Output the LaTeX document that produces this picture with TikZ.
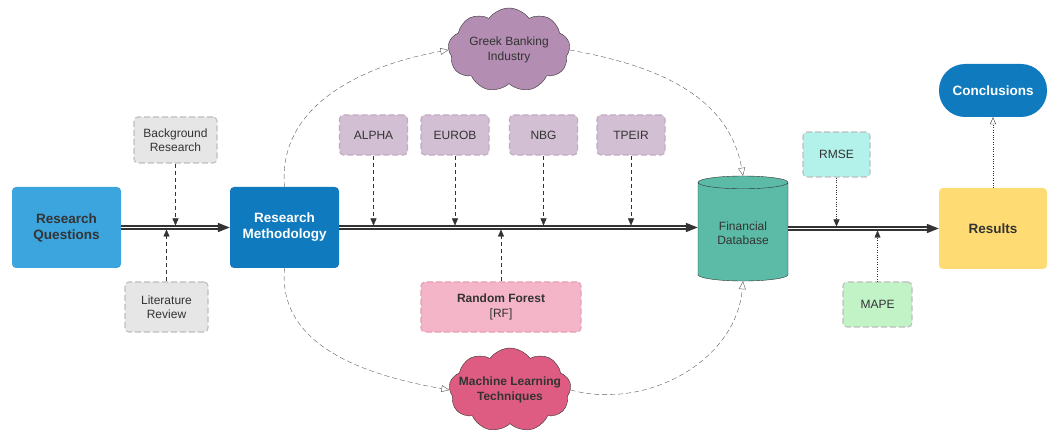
\documentclass[tikz,border=0pt]{standalone}
\usepackage{fontspec}
\setmainfont{Liberation Sans}
\usetikzlibrary{arrows.meta,shapes.geometric,shapes.symbols}

\definecolor{inkgrey}{HTML}{333333}
\definecolor{rqblue}{HTML}{3DA5DE}
\definecolor{rmblue}{HTML}{0F7BBE}
\definecolor{lightfill}{HTML}{E6E6E6}
\definecolor{lightline}{HTML}{BEBEBE}
\definecolor{bankfill}{HTML}{D3BFD3}
\definecolor{bankline}{HTML}{C2AAC3}
\definecolor{greekfill}{HTML}{B38DB2}
\definecolor{mlfill}{HTML}{DE5C82}
\definecolor{rffill}{HTML}{F4B5C9}
\definecolor{rfline}{HTML}{E59FB5}
\definecolor{dbfill}{HTML}{5BBBA6}
\definecolor{rmsefill}{HTML}{B3F1EB}
\definecolor{mapefill}{HTML}{C2F3C6}
\definecolor{resfill}{HTML}{FFDC73}

\begin{document}
\begin{tikzpicture}[x=1pt,y=1pt,
  box/.style={rectangle,rounded corners=4pt,align=center,text=inkgrey,inner sep=2pt},
  stagebox/.style={box,minimum width=109pt,minimum height=81pt,font=\bfseries\fontsize{13.5}{16}\selectfont},
  inbox/.style={box,draw=#1,line width=1.1pt,dash pattern=on 6pt off 3pt,font=\fontsize{12}{14.5}\selectfont},
  puff/.style={cloud,cloud puffs=9,cloud puff arc=110,aspect=1.45,draw=inkgrey,thin,inner sep=0pt,minimum width=122pt,minimum height=84pt},
  flow/.style={draw=inkgrey,line width=1.7pt,double=white,double distance=0.8pt,-{Triangle[length=12pt,width=9pt]}},
  feed/.style={inkgrey,thin,dash pattern=on 4pt off 3pt,-{Triangle[length=7pt,width=6pt]}},
  probe/.style={inkgrey,thin,dotted,-{Triangle[length=7pt,width=6pt]}},
  link/.style={inkgrey!80,thin,dash pattern=on 5pt off 3pt,-{Triangle[open,length=8pt,width=7pt]}}]
\useasboundingbox (0,0) rectangle (1049,-430);

\node[stagebox,fill=rqblue] (rq) at (66.5,-227.5) {Research\\Questions};
\node[stagebox,fill=rmblue,text=white] (rm) at (284.5,-227.5) {Research\\Methodology};
\node[inbox=lightline,fill=lightfill,minimum width=83pt,minimum height=46pt] (bgr) at (175.5,-140) {Background\\Research};
\node[inbox=lightline,fill=lightfill,minimum width=83pt,minimum height=50pt] (lit) at (166.5,-307) {Literature\\Review};
\foreach \n/\txt/\x in {alpha/ALPHA/373.5,eurob/EUROB/455,nbg/NBG/543.5,tpeir/TPEIR/631}
  \node[inbox=bankline,fill=bankfill,minimum width=68pt,minimum height=40pt] (\n) at (\x,-135) {\txt};
\node[inbox=rfline,fill=rffill,minimum width=160pt,minimum height=50pt] (rf) at (501,-307) {\textbf{Random Forest}\\{}[RF]};
\node[puff,fill=greekfill,label={[align=center,text=inkgrey,font=\fontsize{12}{14.5}\selectfont]center:Greek Banking\\Industry}] (greek) at (509,-50) {};
\node[puff,fill=mlfill,label={[align=center,text=inkgrey,font=\bfseries\fontsize{12}{14.5}\selectfont]center:Machine Learning\\Techniques}] (ml) at (510,-390) {};
\node[cylinder,shape border rotate=90,aspect=0.22,draw=inkgrey,thin,fill=dbfill,minimum width=90pt,minimum height=105pt,align=center,text=inkgrey,font=\fontsize{12}{14.5}\selectfont] (db) at (743,-233) {Financial\\Database};
\node[inbox=lightline,fill=rmsefill,minimum width=67pt,minimum height=45pt] (rmse) at (836.5,-154.5) {RMSE};
\node[inbox=lightline,fill=mapefill,minimum width=69pt,minimum height=45pt] (mape) at (877.5,-304.5) {MAPE};
\node[stagebox,fill=resfill,minimum width=108pt] (res) at (993,-228.5) {Results};
\node[stagebox,fill=rmblue,text=white,minimum width=108pt,minimum height=53pt,rounded corners=26pt] (conc) at (993,-90.5) {Conclusions};

\draw[flow] (rq) -- (rm);
\draw[flow] (rm.east) -- (rm.east -| db.west);
\draw[flow] (db.east |- res.west) -- (res.west);
\draw[feed] (bgr.south) -- ([yshift=2pt]bgr.south |- rq.east);
\draw[feed] (lit.north) -- ([yshift=-2pt]lit.north |- rq.east);
\foreach \n in {alpha,eurob,nbg,tpeir}
  \draw[feed] (\n.south) -- ([yshift=2pt]\n.south |- rm.east);
\draw[feed] (rf.north) -- ([yshift=-2pt]rf.north |- rm.east);
\draw[probe] (rmse.south) -- ([yshift=2pt]rmse.south |- res.west);
\draw[probe] (mape.north) -- ([yshift=-2pt]mape.north |- res.west);
\draw[probe,-{Triangle[open,length=7pt,width=6pt]}] (res.north) -- (conc.south);
\draw[link] (rm.north) to[out=95,in=190] (greek.west);
\draw[link] (greek.east) to[out=-10,in=100] (db.north);
\draw[link] (rm.south) to[out=-95,in=170] (ml.west);
\draw[link] (ml.east) to[out=-15,in=-95] (db.south);
\end{tikzpicture}
\end{document}
